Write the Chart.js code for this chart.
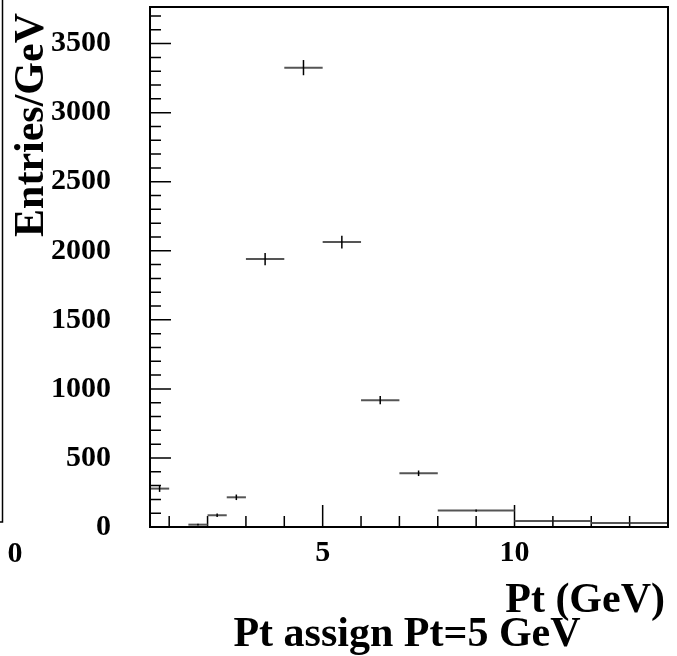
<!DOCTYPE html>
<html lang="en">
<head>
  <meta charset="UTF-8" />
  <title>Pt assign Pt=5 GeV</title>
  <script src="https://cdn.jsdelivr.net/npm/chart.js"></script>
  <style>
    body {
      margin: 0;
      background-color: white;
    }
    .chart-container {
      width: 677px;
      height: 656px;
    }
  </style>
</head>
<body>
  <div class="chart-container">
    <canvas id="myChart"></canvas>
  </div>

  <script>
    // histogram bins (GeV) and contents (entries/GeV)
    const binLow  = [0.5, 1.5, 2.0, 2.5, 3, 4, 5, 6, 7, 8, 10, 12];
    const binHigh = [1.0, 2.0, 2.5, 3.0, 4, 5, 6, 7, 8, 10, 12, 14];
    const values  = [278, 17, 85, 215, 1940, 3326, 2063, 918, 389, 119, 43, 29];
    const errors  = [24, 6, 13, 20, 44, 55, 46, 30, 20, 8, 5, 4];

    const xTickLabels = [5, 10];
    const yTickLabels = [0, 500, 1000, 1500, 2000, 2500, 3000, 3500];
    const xMinorTicks = [1, 2, 3, 4, 6, 7, 8, 9, 11, 12, 13];
    const yMinorTicks = [];
    for (let v = 100; v <= 3700; v += 100) {
      if (v % 500 !== 0) yMinorTicks.push(v);
    }

    const font = 'bold 30px "Liberation Serif", "Times New Roman", serif';
    const titleFont = 'bold 42px "Liberation Serif", "Times New Roman", serif';

    // frame, inner ticks, error crosses and the texts ROOT puts around the pad
    const rootStyle = {
      id: 'rootStyle',
      afterDatasetsDraw(chart) {
        const ctx = chart.ctx;
        const area = chart.chartArea;
        const xs = chart.scales.x;
        const ys = chart.scales.y;
        ctx.save();

        // ticks pointing inward
        ctx.strokeStyle = '#000';
        ctx.lineWidth = 1.5;
        ctx.beginPath();
        yTickLabels.forEach(v => {
          const y = ys.getPixelForValue(v);
          ctx.moveTo(area.left, y);
          ctx.lineTo(area.left + 21, y);
        });
        yMinorTicks.forEach(v => {
          const y = ys.getPixelForValue(v);
          ctx.moveTo(area.left, y);
          ctx.lineTo(area.left + 11, y);
        });
        xTickLabels.forEach(v => {
          const x = xs.getPixelForValue(v);
          ctx.moveTo(x, area.bottom);
          ctx.lineTo(x, area.bottom - 22);
        });
        xMinorTicks.forEach(v => {
          const x = xs.getPixelForValue(v);
          ctx.moveTo(x, area.bottom);
          ctx.lineTo(x, area.bottom - 11);
        });
        ctx.stroke();

        // error crosses
        binLow.forEach((lo, i) => {
          const x1 = xs.getPixelForValue(lo);
          const x2 = xs.getPixelForValue(binHigh[i]);
          const xc = xs.getPixelForValue((lo + binHigh[i]) / 2);
          const y = ys.getPixelForValue(values[i]);
          const yTop = ys.getPixelForValue(values[i] + errors[i]);
          const yBot = ys.getPixelForValue(values[i] - errors[i]);
          ctx.strokeStyle = '#555';
          ctx.lineWidth = 2;
          ctx.beginPath();
          ctx.moveTo(x1, y);
          ctx.lineTo(x2, y);
          ctx.stroke();
          ctx.strokeStyle = '#000';
          ctx.lineWidth = 1.5;
          ctx.beginPath();
          ctx.moveTo(xc, yTop);
          ctx.lineTo(xc, yBot);
          ctx.stroke();
        });

        // frame
        ctx.strokeStyle = '#000';
        ctx.lineWidth = 2;
        ctx.strokeRect(area.left, area.top, area.right - area.left, area.bottom - area.top);

        // edge of the neighbouring pad
        ctx.lineWidth = 1.5;
        ctx.beginPath();
        ctx.moveTo(2.5, 0);
        ctx.lineTo(2.5, 522);
        ctx.lineTo(0, 522);
        ctx.stroke();

        // texts
        ctx.fillStyle = '#000';
        ctx.font = font;
        ctx.textAlign = 'center';
        ctx.textBaseline = 'alphabetic';
        ctx.fillText('0', 15, 562);

        ctx.font = titleFont;
        ctx.textAlign = 'right';
        ctx.fillText('Pt (GeV)', area.right - 3, 612);
        ctx.textAlign = 'center';
        ctx.fillText('Pt assign Pt=5 GeV', 407, 646);

        ctx.translate(43, 13);
        ctx.rotate(-Math.PI / 2);
        ctx.textAlign = 'right';
        ctx.fillText('Entries/GeV', 0, 0);
        ctx.restore();
      }
    };

    const ctx = document.getElementById('myChart').getContext('2d');
    const config = {
      type: 'scatter',
      data: {
        datasets: [{
          label: 'Pt',
          data: binLow.map((lo, i) => ({ x: (lo + binHigh[i]) / 2, y: values[i] })),
          pointRadius: 0,
          showLine: false
        }]
      },
      options: {
        responsive: true,
        maintainAspectRatio: false,
        animation: false,
        layout: { padding: { left: 0, top: 7, right: 9, bottom: 0 } },
        plugins: {
          legend: { display: false },
          tooltip: { enabled: false }
        },
        scales: {
          x: {
            type: 'linear',
            min: 0.5,
            max: 14,
            grid: { display: false },
            border: { display: false },
            afterBuildTicks: s => { s.ticks = xTickLabels.map(v => ({ value: v })); },
            afterFit: s => {
              s.height = 129;
              s.paddingLeft = 0;
              s.paddingRight = 0;
            },
            ticks: {
              color: '#000',
              padding: 0,
              maxRotation: 0,
              callback: v => String(v),
              font: { family: '"Liberation Serif", serif', size: 30, weight: 'bold' }
            }
          },
          y: {
            min: 0,
            max: 3765,
            grid: { display: false },
            border: { display: false },
            afterBuildTicks: s => { s.ticks = yTickLabels.map(v => ({ value: v })); },
            afterFit: s => {
              s.width = 150;
              s.paddingTop = 0;
              s.paddingBottom = 0;
            },
            ticks: {
              color: '#000',
              padding: 31,
              callback: v => String(v),
              font: { family: '"Liberation Serif", serif', size: 30, weight: 'bold' }
            }
          }
        }
      },
      plugins: [rootStyle]
    };

    const myChart = new Chart(ctx, config);
  </script>
</body>
</html>
